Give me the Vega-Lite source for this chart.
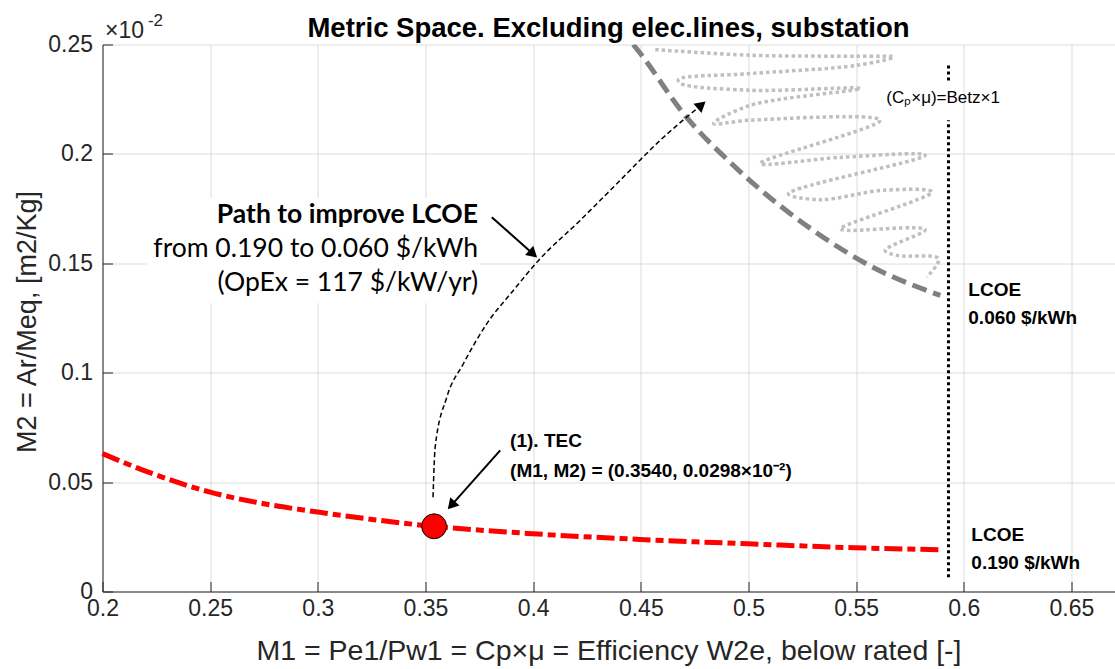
{
  "$schema": "https://vega.github.io/schema/vega-lite/v6.json",
  "width": 1012,
  "height": 547,
  "autosize": {"type": "none"},
  "padding": {"left": 102.5, "top": 44.5, "right": 0, "bottom": 77.5},
  "background": "white",
  "config": {
    "font": "Liberation Sans",
    "view": {"stroke": null},
    "axis": {
      "grid": true,
      "gridColor": "#dcdcdc",
      "gridWidth": 1,
      "domainColor": "#262626",
      "domainWidth": 1,
      "tickColor": "#262626",
      "tickSize": -10,
      "labelFontSize": 23,
      "labelColor": "#262626",
      "labelOverlap": false,
      "labelFlush": false,
      "titleFontSize": 27,
      "titleFontWeight": "normal",
      "titleColor": "#262626"
    }
  },
  "title": {
    "text": "Metric Space. Excluding elec.lines, substation",
    "fontSize": 27.5,
    "fontWeight": "bold",
    "color": "black",
    "anchor": "middle",
    "offset": 8,
    "dy": 38
  },
  "datasets": {
    "red": [
      {"x": 0.2, "y": 0.063},
      {"x": 0.2234, "y": 0.0538},
      {"x": 0.25, "y": 0.0454},
      {"x": 0.275, "y": 0.0401},
      {"x": 0.3, "y": 0.0363},
      {"x": 0.3496, "y": 0.0302},
      {"x": 0.4, "y": 0.0264},
      {"x": 0.4495, "y": 0.0238},
      {"x": 0.4998, "y": 0.0218},
      {"x": 0.5494, "y": 0.02},
      {"x": 0.5896, "y": 0.0191}
    ],
    "gray": [
      {"x": 0.4465, "y": 0.25},
      {"x": 0.4498, "y": 0.2459},
      {"x": 0.4697, "y": 0.2186},
      {"x": 0.4946, "y": 0.1933},
      {"x": 0.53, "y": 0.1651},
      {"x": 0.558, "y": 0.1481},
      {"x": 0.5891, "y": 0.1353}
    ],
    "squiggle": [
      {"i": 1, "x": 0.4567, "y": 0.2477},
      {"i": 2, "x": 0.5008, "y": 0.2451},
      {"i": 3, "x": 0.5504, "y": 0.2446},
      {"i": 4, "x": 0.5674, "y": 0.2443},
      {"i": 5, "x": 0.5504, "y": 0.2405},
      {"i": 6, "x": 0.5008, "y": 0.2367},
      {"i": 7, "x": 0.4675, "y": 0.234},
      {"i": 8, "x": 0.4683, "y": 0.2323},
      {"i": 9, "x": 0.5008, "y": 0.2291},
      {"i": 10, "x": 0.552, "y": 0.2299},
      {"i": 11, "x": 0.5008, "y": 0.2222},
      {"i": 12, "x": 0.4838, "y": 0.2139},
      {"i": 13, "x": 0.5008, "y": 0.2154},
      {"i": 14, "x": 0.5612, "y": 0.2154},
      {"i": 15, "x": 0.5055, "y": 0.1956},
      {"i": 16, "x": 0.5426, "y": 0.1984},
      {"i": 17, "x": 0.5821, "y": 0.1994},
      {"i": 18, "x": 0.5186, "y": 0.1818},
      {"i": 19, "x": 0.5333, "y": 0.1791},
      {"i": 20, "x": 0.5627, "y": 0.1834},
      {"i": 21, "x": 0.5852, "y": 0.1826},
      {"i": 22, "x": 0.5426, "y": 0.1658},
      {"i": 23, "x": 0.5457, "y": 0.1651},
      {"i": 24, "x": 0.5821, "y": 0.1654},
      {"i": 25, "x": 0.5635, "y": 0.1559},
      {"i": 26, "x": 0.569, "y": 0.1536},
      {"i": 27, "x": 0.5883, "y": 0.1521},
      {"i": 28, "x": 0.5829, "y": 0.1437}
    ],
    "path": [
      {"x": 0.3535, "y": 0.0431},
      {"x": 0.3545, "y": 0.066},
      {"x": 0.3599, "y": 0.0888},
      {"x": 0.3676, "y": 0.1041},
      {"x": 0.3785, "y": 0.1224},
      {"x": 0.3908, "y": 0.1376},
      {"x": 0.4025, "y": 0.1513},
      {"x": 0.4218, "y": 0.1696},
      {"x": 0.4404, "y": 0.1879},
      {"x": 0.459, "y": 0.2062},
      {"x": 0.4782, "y": 0.2224}
    ],
    "arrows": [
      {"id": "path", "x": 0.3808, "y": 0.1711},
      {"id": "path", "x": 0.4, "y": 0.1543},
      {"id": "tec", "x": 0.3847, "y": 0.0645},
      {"id": "tec", "x": 0.362, "y": 0.0394}
    ],
    "heads": [
      {"x": 0.4, "y": 0.1543, "a": 131.8},
      {"x": 0.362, "y": 0.0394, "a": 221.6},
      {"x": 0.4782, "y": 0.2224, "a": 49.4}
    ],
    "vline": [
      {"x": 0.5929, "y": 0.0065, "y2": 0.2154},
      {"x": 0.5929, "y": 0.2336, "y2": 0.2413}
    ],
    "box": [
      {"x": 0.2207, "x2": 0.3754, "y": 0.1317, "y2": 0.1797}
    ],
    "tec": [
      {"x": 0.354, "y": 0.0298}
    ],
    "pathBold": [
      {"x": 0.3744, "y": 0.1719, "t": "Path to improve LCOE"}
    ],
    "pathText": [
      {"x": 0.3744, "y": 0.1564, "t": "from 0.190 to 0.060 $/kWh"},
      {"x": 0.3744, "y": 0.1408, "t": "(OpEx = 117 $/kW/yr)"}
    ],
    "boldLabels": [
      {"x": 0.3893, "y": 0.069, "t": "(1). TEC"},
      {"x": 0.3893, "y": 0.0553, "t": "(M1, M2) = (0.3540, 0.0298×10⁻²)"},
      {"x": 0.6021, "y": 0.1376, "t": "LCOE"},
      {"x": 0.6021, "y": 0.1248, "t": "0.060 $/kWh"},
      {"x": 0.6035, "y": 0.0256, "t": "LCOE"},
      {"x": 0.6035, "y": 0.0128, "t": "0.190 $/kWh"}
    ],
    "betz": [
      {"x": 0.564, "y": 0.2254, "t": "(Cₚ×μ)=Betz×1"}
    ],
    "exp": [
      {"x": 0.2012, "y": 0.2529, "t": "×10"}
    ],
    "expSup": [
      {"x": 0.2211, "y": 0.2583, "t": "-2"}
    ]
  },
  "encoding": {
    "x": {
      "field": "x",
      "type": "quantitative",
      "scale": {"domain": [0.2, 0.67], "nice": false, "zero": false},
      "axis": {
        "values": [0.2, 0.25, 0.3, 0.35, 0.4, 0.45, 0.5, 0.55, 0.6, 0.65],
        "format": "~g",
        "labelPadding": 16,
        "title": "M1 = Pe1/Pw1 = Cp×μ = Efficiency W2e, below rated [-]",
        "titleFontSize": 28.5,
        "titleBaseline": "alphabetic",
        "titleY": 68
      }
    },
    "y": {
      "field": "y",
      "type": "quantitative",
      "scale": {"domain": [0, 0.25], "nice": false, "zero": false},
      "axis": {
        "values": [0, 0.05, 0.1, 0.15, 0.2, 0.25],
        "format": "~g",
        "labelPadding": 20,
        "title": "M2 = Ar/Meq, [m2/Kg]",
        "titleBaseline": "alphabetic",
        "titleAngle": -90,
        "titleX": -67,
        "titleY": 277
      }
    }
  },
  "layer": [
    {
      "data": {"name": "box"},
      "mark": {"type": "rect", "fill": "white"},
      "encoding": {"x2": {"field": "x2"}, "y2": {"field": "y2"}}
    },
    {
      "data": {"name": "squiggle"},
      "mark": {"type": "line", "color": "#bfbfbf", "strokeWidth": 3.5, "strokeDash": [3.5, 3], "interpolate": "catmull-rom", "clip": true},
      "encoding": {"order": {"field": "i", "type": "quantitative"}}
    },
    {
      "data": {"name": "gray"},
      "mark": {"type": "line", "color": "#808080", "strokeWidth": 5, "strokeDash": [15, 7], "interpolate": "monotone", "clip": true},
      "encoding": {}
    },
    {
      "data": {"name": "red"},
      "mark": {"type": "line", "color": "#ff0000", "strokeWidth": 5, "strokeDash": [18, 5, 8, 5], "interpolate": "monotone"},
      "encoding": {}
    },
    {
      "data": {"name": "vline"},
      "mark": {"type": "rule", "color": "black", "strokeWidth": 3, "strokeDash": [3, 3]},
      "encoding": {"y2": {"field": "y2"}}
    },
    {
      "data": {"name": "path"},
      "mark": {"type": "line", "color": "black", "strokeWidth": 1.5, "strokeDash": [5, 3], "interpolate": "monotone"},
      "encoding": {}
    },
    {
      "data": {"name": "arrows"},
      "mark": {"type": "line", "color": "black", "strokeWidth": 2},
      "encoding": {"detail": {"field": "id"}}
    },
    {
      "data": {"name": "heads"},
      "mark": {"type": "point", "shape": "triangle-up", "filled": true, "color": "black", "opacity": 1, "size": 150},
      "encoding": {"angle": {"field": "a", "type": "quantitative", "scale": null}}
    },
    {
      "data": {"name": "tec"},
      "mark": {"type": "point", "filled": true, "fill": "#ff0000", "stroke": "black", "strokeWidth": 1, "opacity": 1, "size": 620},
      "encoding": {}
    },
    {
      "data": {"name": "pathBold"},
      "mark": {"type": "text", "font": "Lato", "fontSize": 26.5, "fontWeight": "bold", "align": "right", "baseline": "middle", "color": "black"},
      "encoding": {"text": {"field": "t"}}
    },
    {
      "data": {"name": "pathText"},
      "mark": {"type": "text", "font": "Lato", "fontSize": 26.5, "align": "right", "baseline": "middle", "color": "black"},
      "encoding": {"text": {"field": "t"}}
    },
    {
      "data": {"name": "boldLabels"},
      "mark": {"type": "text", "fontSize": 19, "fontWeight": "bold", "align": "left", "baseline": "middle", "color": "black"},
      "encoding": {"text": {"field": "t"}}
    },
    {
      "data": {"name": "betz"},
      "mark": {"type": "text", "fontSize": 17, "align": "left", "baseline": "middle", "color": "black"},
      "encoding": {"text": {"field": "t"}}
    },
    {
      "data": {"name": "exp"},
      "mark": {"type": "text", "fontSize": 23, "align": "left", "baseline": "alphabetic", "color": "#262626"},
      "encoding": {"text": {"field": "t"}}
    },
    {
      "data": {"name": "expSup"},
      "mark": {"type": "text", "fontSize": 17, "align": "left", "baseline": "alphabetic", "color": "#262626"},
      "encoding": {"text": {"field": "t"}}
    }
  ]
}
